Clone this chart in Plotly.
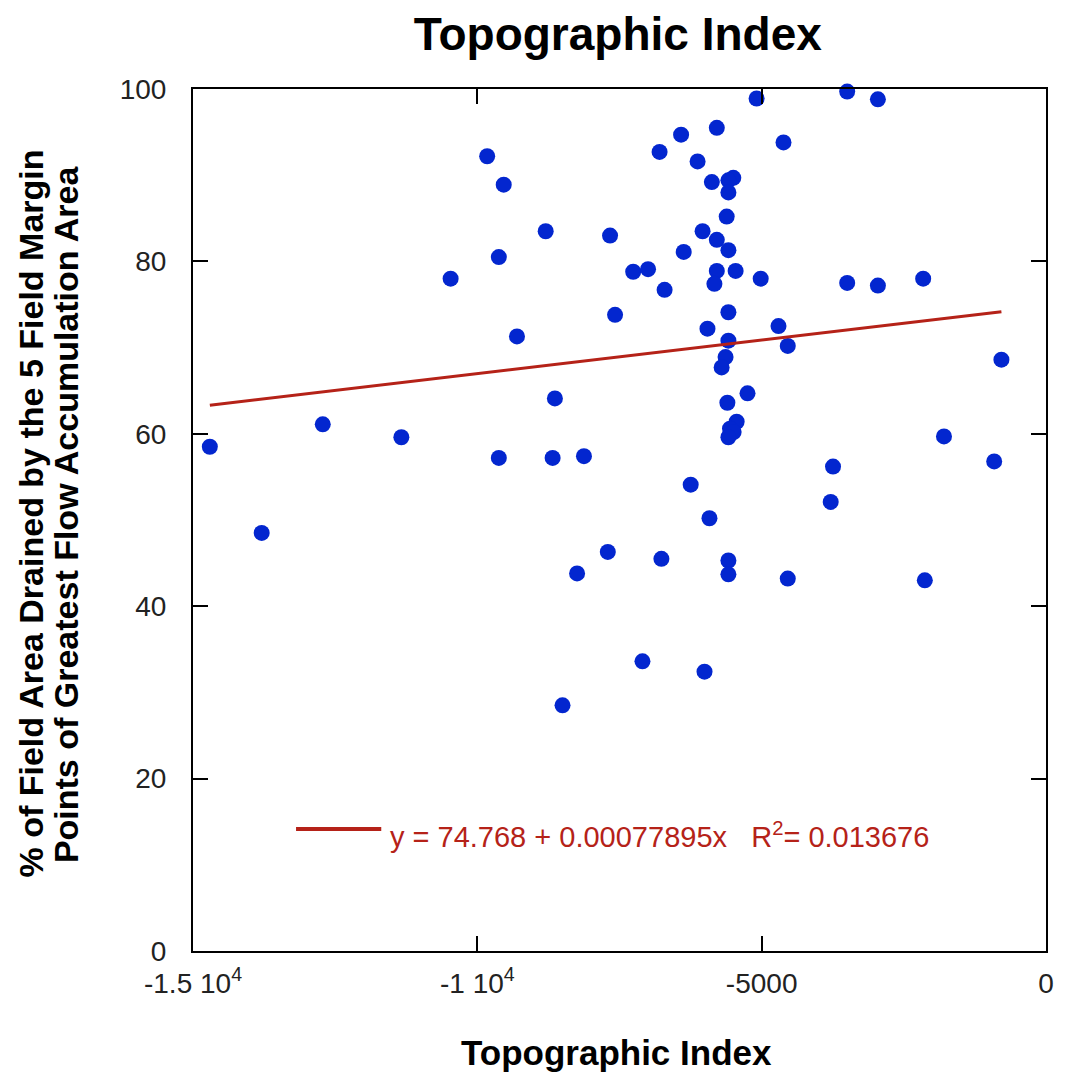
import plotly.graph_objects as go

# Data
topo_index = [
    -5089, -9827, -9536, -8798, -7666, -9622, -9303, -7578, -7259, -6998,
    -6707, -6795, -6417, -5789, -6127, -5876, -5499, -5585, -5585, -5615,
    -6039, -5789, -5585, -6371, -5789, -5831, -5458, -5017, -5585, -5953,
    -5585, -5635, -5704, -3496, -2956, -4616, -3496, -2956, -2160, -4704,
    -4541, -784, -14704, -12718, -11336, -13792, -10470, -8636, -5249, -5603,
    -5440, -5557, -5493, -5585, -9622, -8676, -8125, -6248, -5918, -7706,
    -8246, -6763, -5585, -5585, -7096, -6005, -8502, -1794, -911, -3745,
    -3786, -4541, -2131,
]
pct_drained = [
    98.9, 92.2, 88.9, 83.5, 83.0, 80.5, 71.3, 73.8, 78.8, 79.1,
    76.7, 92.7, 94.7, 95.5, 91.6, 89.2, 89.7, 89.4, 88.0, 85.2,
    83.5, 82.5, 81.3, 81.1, 78.9, 77.4, 78.9, 78.0, 74.1, 72.2,
    70.8, 68.9, 67.7, 99.7, 98.8, 93.8, 77.5, 77.2, 78.0, 72.5,
    70.2, 68.6, 58.5, 61.1, 59.6, 48.5, 78.0, 64.1, 64.7, 63.6,
    61.4, 60.6, 60.2, 59.6, 57.2, 57.2, 57.4, 54.1, 50.2, 46.3,
    43.8, 45.5, 45.3, 43.7, 33.6, 32.4, 28.5, 59.7, 56.8, 56.2,
    52.1, 43.2, 43.0,
]

fit_intercept = 74.768
fit_slope = 0.00077895
fit_r2 = 0.013676

x_tick_vals = [-15000, -10000, -5000, 0]
x_tick_text = ["-1.5 10<sup>4</sup>", "-1 10<sup>4</sup>", "-5000", "0"]
y_tick_vals = [0, 20, 40, 60, 80, 100]

fit_x = [min(topo_index), max(topo_index)]
fit_y = [fit_intercept + fit_slope * v for v in fit_x]

FONT = "Liberation Sans, Arial, sans-serif"
RED = "#b52218"

fig = go.Figure()
fig.add_trace(go.Scatter(
    x=topo_index, y=pct_drained, mode="markers",
    marker=dict(color="#0326cf", size=16, line=dict(width=0)),
    showlegend=False, cliponaxis=False,
))
fig.add_trace(go.Scatter(
    x=fit_x, y=fit_y, mode="lines",
    line=dict(color=RED, width=3), showlegend=False,
))

fig.update_layout(
    width=1065, height=1072,
    margin=dict(l=193, r=11, t=89, b=121),
    paper_bgcolor="white", plot_bgcolor="white",
    font=dict(family=FONT, color="#222"),
    title=dict(text="<b>Topographic Index</b>", xref="paper", x=0.498, xanchor="center",
               yref="container", y=0.968, yanchor="middle",
               font=dict(size=46, color="black")),
)
fig.update_xaxes(
    range=[-15000, 0], tickvals=x_tick_vals, ticktext=x_tick_text,
    ticks="inside", ticklen=15, tickwidth=2, tickcolor="black",
    showline=True, linecolor="black", linewidth=2, mirror="ticks",
    showgrid=False, zeroline=False, tickfont=dict(size=28, color="#222"),
    ticklabelstandoff=6,
)
fig.update_yaxes(
    range=[0, 100], tickvals=y_tick_vals,
    ticks="inside", ticklen=15, tickwidth=2, tickcolor="black",
    showline=True, linecolor="black", linewidth=2, mirror="ticks",
    showgrid=False, zeroline=False, tickfont=dict(size=28, color="#222"),
    ticklabelstandoff=19,
)

y_title_lines = [
    "% of Field Area Drained by the 5 Field Margin",
    "Points of Greatest Flow Accumulation Area",
]
for xpos, line in zip([-0.1905, -0.1487], y_title_lines):
    fig.add_annotation(
        text=f"<b>{line}</b>", xref="paper", yref="paper", x=xpos, y=0.507,
        xanchor="center", yanchor="middle", textangle=-90, showarrow=False,
        font=dict(size=34, color="black"),
    )
fig.add_annotation(
    text="<b>Topographic Index</b>", xref="paper", yref="paper",
    x=0.496, y=-0.118, xanchor="center", yanchor="middle",
    showarrow=False, font=dict(size=35, color="black"),
)
# legend entry for the fit line
fig.add_shape(type="line", xref="paper", yref="paper",
              x0=0.1208, x1=0.2207, y0=0.1415, y1=0.1415,
              line=dict(color=RED, width=4))
fig.add_annotation(
    text=f"y = {fit_intercept} + {fit_slope}x   R<sup>2</sup>= {fit_r2}",
    xref="paper", yref="paper", x=0.2288, y=0.134, xanchor="left", yanchor="middle",
    showarrow=False, font=dict(size=29, color=RED),
)

fig.write_html("out.html")
